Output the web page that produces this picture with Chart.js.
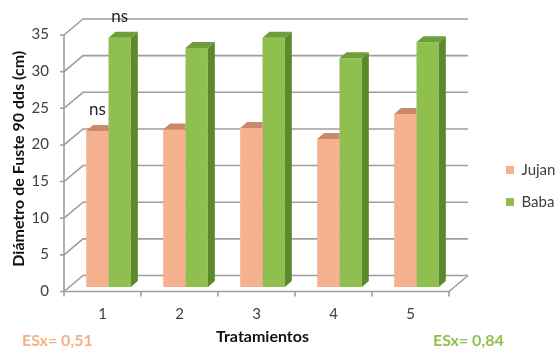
<!DOCTYPE html>
<html>
<head>
<meta charset="utf-8">
<script src="https://cdn.jsdelivr.net/npm/chart.js@4.4.1/dist/chart.umd.min.js"></script>
<style>
  html, body { margin: 0; padding: 0; background: #ffffff; }
  canvas { display: block; }
</style>
</head>
<body>
<canvas id="chart" width="555" height="349"></canvas>
<script>
// Diámetro de fuste a los 90 dds por tratamiento
const tratamientos = ['1', '2', '3', '4', '5'];
const jujan = [21.3, 21.5, 21.7, 20.2, 23.6];
const baba = [34.0, 32.6, 34.0, 31.2, 33.4];
const seriesNames = ['Jujan', 'Baba'];
const sigJujan = ['ns', '', '', '', ''];
const sigBaba = ['ns', '', '', '', ''];
const esxLabels = ['ESx= 0,51', 'ESx= 0,84'];
const yTitle = 'Diámetro de Fuste 90 dds (cm)';
const xTitle = 'Tratamientos';

const FONT = 'Lato, "Open Sans", sans-serif';
const FRONT = ['#F6B18F', '#8FC04F'];
const TOP = ['#C98A6C', '#6F9E38'];
const SIDE = ['#B97A5E', '#5C8A2B'];
const ESX_COLORS = ['#F4B183', '#92C050'];
const GRID = '#9e9e9e';

// 3D offsets relative to the plane the bars stand in
const BAR_DEPTH = { dx: 7, dy: -6 };
const WALL_BACK = { dx: 13, dy: -11.5 };
const WALL_FRONT = { dx: -6, dy: 4.5 };

// walls, floor and front axis line, drawn behind the columns
const frame3d = {
  id: 'frame3d',
  beforeDatasetsDraw(chart) {
    const { ctx, chartArea: a, scales: { x, y } } = chart;
    const fx = a.left + WALL_FRONT.dx;
    const bx = a.left + WALL_BACK.dx;
    const rx = a.right + WALL_BACK.dx;
    ctx.save();
    ctx.strokeStyle = GRID;
    ctx.lineWidth = 1.6;
    y.ticks.forEach(t => {
      const py = y.getPixelForValue(t.value);
      ctx.beginPath();
      ctx.moveTo(fx - 4, py + WALL_FRONT.dy);
      ctx.lineTo(fx, py + WALL_FRONT.dy);
      ctx.lineTo(bx, py + WALL_BACK.dy);
      ctx.lineTo(rx, py + WALL_BACK.dy);
      ctx.stroke();
    });
    const yTop = y.getPixelForValue(y.max);
    const y0 = y.getPixelForValue(0);
    // front value axis
    ctx.beginPath();
    ctx.moveTo(fx, yTop + WALL_FRONT.dy);
    ctx.lineTo(fx, y0 + WALL_FRONT.dy);
    ctx.stroke();
    // floor front edge and right side
    const fy = y0 + WALL_FRONT.dy;
    const frx = a.right + WALL_FRONT.dx;
    ctx.beginPath();
    ctx.moveTo(fx, fy);
    ctx.lineTo(frx, fy);
    ctx.lineTo(rx, y0 + WALL_BACK.dy);
    ctx.stroke();
    // category tick marks
    const n = x.ticks.length;
    const step = (a.right - a.left) / n;
    for (let i = 0; i <= n; i++) {
      const px = a.left + i * step + WALL_FRONT.dx;
      ctx.beginPath();
      ctx.moveTo(px, fy);
      ctx.lineTo(px, fy + 5);
      ctx.stroke();
    }
    ctx.restore();
  }
};

// top and side faces of each column
const columns3d = {
  id: 'columns3d',
  afterDatasetDraw(chart, args) {
    const { ctx } = chart;
    const di = args.index;
    const last = di === chart.data.datasets.length - 1;
    ctx.save();
    args.meta.data.forEach(el => {
      const { x, y, base, width } = el.getProps(['x', 'y', 'base', 'width'], true);
      const l = x - width / 2, r = x + width / 2;
      ctx.save();
      if (!last) {
        ctx.beginPath();
        ctx.rect(0, 0, r, chart.height);
        ctx.clip();
      }
      // side
      ctx.fillStyle = SIDE[di];
      ctx.beginPath();
      ctx.moveTo(r, y);
      ctx.lineTo(r + BAR_DEPTH.dx, y + BAR_DEPTH.dy);
      ctx.lineTo(r + BAR_DEPTH.dx, base + BAR_DEPTH.dy);
      ctx.lineTo(r, base);
      ctx.closePath();
      ctx.fill();
      // top
      ctx.fillStyle = TOP[di];
      ctx.beginPath();
      ctx.moveTo(l, y);
      ctx.lineTo(r, y);
      ctx.lineTo(r + BAR_DEPTH.dx, y + BAR_DEPTH.dy);
      ctx.lineTo(l + BAR_DEPTH.dx, y + BAR_DEPTH.dy);
      ctx.closePath();
      ctx.fill();
      ctx.restore();
    });
    ctx.restore();
  }
};

// significance marks above the columns and the standard error notes
const notes = {
  id: 'notes',
  afterDraw(chart) {
    const { ctx } = chart;
    ctx.save();
    ctx.fillStyle = '#262626';
    ctx.font = '17px ' + FONT;
    ctx.textAlign = 'center';
    ctx.textBaseline = 'middle';
    [sigJujan, sigBaba].forEach((sig, di) => {
      const meta = chart.getDatasetMeta(di);
      sig.forEach((s, i) => {
        if (!s) return;
        const el = meta.data[i];
        ctx.fillText(s, el.x, el.y - 21);
      });
    });
    ctx.font = 'bold 16px ' + FONT;
    ctx.textAlign = 'left';
    ctx.fillStyle = ESX_COLORS[0];
    ctx.fillText(esxLabels[0], 22, 341);
    ctx.fillStyle = ESX_COLORS[1];
    ctx.fillText(esxLabels[1], 433, 341);
    ctx.restore();
  }
};

// legend box sizing and placement to the right of the floor
const legendPlace = {
  id: 'legendPlace',
  afterInit(chart) {
    const lg = chart.legend;
    if (!lg || lg._fixedFit) return;
    const fit = lg.fit.bind(lg);
    lg.fit = function () { fit(); this.width = 100; };
    lg._fixedFit = true;
  },
  afterLayout(chart) {
    const lg = chart.legend;
    const pad = lg.options.labels.padding;
    const fs = lg.options.labels.font.size;
    lg.left = 506 - pad;
    lg.right = 555;
    lg.width = lg.right - lg.left;
    lg.top = 170 - fs / 2 - pad;
    lg.bottom = lg.top + 90;
    lg.height = 90;
  }
};

new Chart(document.getElementById('chart'), {
  type: 'bar',
  data: {
    labels: tratamientos,
    datasets: [
      { label: seriesNames[0], data: jujan, backgroundColor: FRONT[0] },
      { label: seriesNames[1], data: baba, backgroundColor: FRONT[1] }
    ]
  },
  plugins: [frame3d, columns3d, notes, legendPlace],
  options: {
    responsive: false,
    animation: false,
    devicePixelRatio: 1,
    layout: { padding: { top: 30.5, left: 0, right: 0, bottom: 0 } },
    datasets: {
      bar: { categoryPercentage: 0.58, barPercentage: 1, borderWidth: 0, inflateAmount: 0 }
    },
    plugins: {
      tooltip: { enabled: false },
      legend: {
        position: 'right',
        align: 'start',
        labels: {
          boxWidth: 8,
          boxHeight: 8,
          padding: 17,
          color: '#404040',
          font: { family: FONT, size: 15 }
        }
      }
    },
    scales: {
      x: {
        grid: { display: false, drawTicks: false },
        border: { display: false },
        ticks: {
          color: '#404040',
          font: { family: FONT, size: 15 },
          padding: 18,
          labelOffset: -6,
          maxRotation: 0
        },
        title: {
          display: true,
          text: xTitle,
          color: '#111111',
          font: { family: FONT, size: 16, weight: 'bold' },
          padding: { top: 0, bottom: 3 }
        },
        afterFit(s) { s.height = 62; }
      },
      y: {
        min: 0,
        max: 35,
        grid: { display: false, drawTicks: false },
        border: { display: false },
        ticks: {
          stepSize: 5,
          color: '#404040',
          font: { family: FONT, size: 15 },
          padding: 21,
          labelOffset: 4
        },
        title: {
          display: true,
          text: yTitle,
          color: '#111111',
          font: { family: FONT, size: 16, weight: 'bold' },
          padding: { top: 9, bottom: 0 }
        },
        afterFit(s) { s.width = 70; }
      }
    }
  }
});
</script>
</body>
</html>
